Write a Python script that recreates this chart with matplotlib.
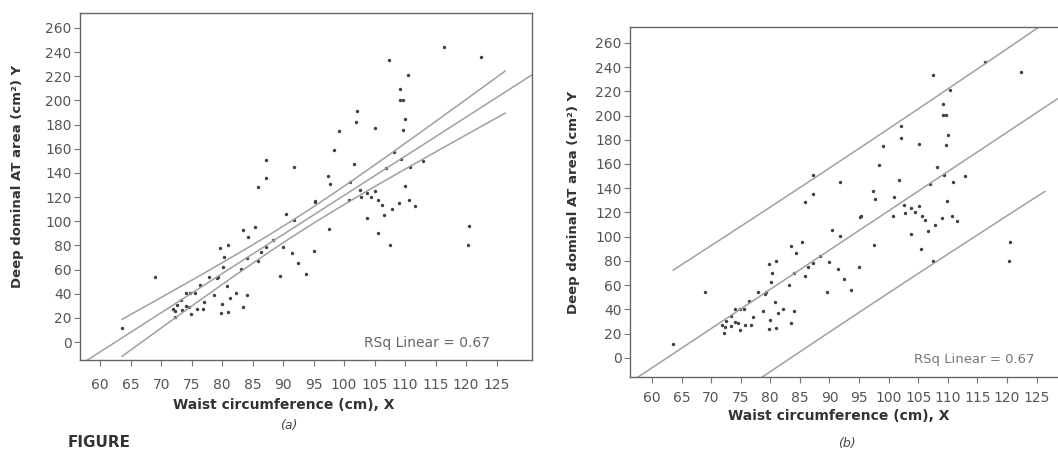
import numpy as np
import matplotlib.pyplot as plt

# waist circumference (cm) and deep abdominal AT area (cm^2)
waist = np.array([116.3, 122.4, 107.4, 110.4, 109.2, 109.1, 109.6, 102.1, 102.0, 105.1,
                  110.0, 99.1, 109.6, 98.4, 108.1, 87.2, 87.2, 85.8, 91.8, 97.3,
                  97.7, 101.7, 100.9, 106.9, 109.3, 110.8, 112.9, 109.9, 102.6, 103.8,
                  105.1, 102.8, 100.8, 104.4, 105.6, 106.2, 103.7, 106.6, 107.8, 109.0,
                  110.7, 111.6, 105.5, 107.5, 120.5, 120.3, 95.2, 95.3, 90.4, 91.8,
                  97.6, 95.0, 89.9, 91.4, 92.4, 89.5, 93.7, 88.4, 87.2, 86.3,
                  85.8, 85.4, 83.5, 84.3, 84.0, 80.9, 79.7, 80.3, 80.1, 83.1,
                  79.3, 79.1, 77.9, 69.0, 76.4, 80.8, 82.2, 84.0, 81.3, 78.7,
                  80.0, 79.8, 81.0, 83.5, 77.0, 75.6, 74.8, 74.0, 73.3, 72.6,
                  71.9, 72.3, 73.4, 74.5, 74.9, 75.8, 76.8, 74.1, 63.6, 72.2])
deep_at = np.array([244.5, 235.7, 233.4, 221.0, 209.2, 200.3, 200.3, 191.5, 181.8, 176.9,
                    184.3, 174.9, 175.5, 158.9, 157.6, 150.7, 135.5, 128.6, 145.1, 137.4,
                    130.8, 147.1, 132.7, 143.8, 151.2, 145.1, 149.8, 129.1, 125.8, 123.6,
                    125.3, 119.8, 117.5, 120.3, 117.5, 113.4, 102.4, 105.1, 109.8, 115.3,
                    117.5, 112.6, 90.0, 80.3, 96.0, 80.3, 116.2, 117.0, 105.7, 101.0,
                    93.5, 75.1, 78.9, 73.4, 65.1, 54.6, 56.3, 84.4, 78.4, 74.8,
                    67.3, 95.5, 92.7, 86.6, 69.8, 80.3, 77.5, 70.1, 62.4, 60.2,
                    54.1, 52.7, 54.1, 54.1, 47.2, 46.4, 40.3, 38.9, 36.7, 38.9,
                    31.5, 23.7, 25.1, 28.7, 33.4, 40.3, 40.8, 40.3, 34.8, 30.6,
                    27.0, 25.7, 26.5, 29.2, 23.2, 27.0, 27.0, 29.8, 11.3, 21.0])

x_ticks = np.arange(60, 126, 5)
y_ticks = np.arange(0, 261, 20)
rsq_text = "RSq Linear = 0.67"

# least squares fit and the two kinds of 95% bands
slope, intercept = np.polyfit(waist, deep_at, 1)
n = len(waist)
resid = deep_at - (intercept + slope * waist)
s = np.sqrt(np.sum(resid ** 2) / (n - 2))
sxx = np.sum((waist - waist.mean()) ** 2)
t = 1.98

xb = np.linspace(waist.min(), 126.4, 200)
yb = intercept + slope * xb
half_mean = t * s * np.sqrt(1 / n + (xb - waist.mean()) ** 2 / sxx)
half_pred = t * s * np.sqrt(1 + 1 / n + (xb - waist.mean()) ** 2 / sxx)

fig = plt.figure(figsize=(10.58, 4.53), dpi=100)
ax1 = fig.add_axes([80 / 1058, 1 - 360 / 453, 452 / 1058, 347 / 453])
ax2 = fig.add_axes([630 / 1058, 1 - 377 / 453, 428 / 1058, 350 / 453])

line_c = '#a0a0a0'
pt_c = '#404040'

def style(ax, xlim, ylim):
    ax.set_xlim(*xlim)
    ax.set_ylim(*ylim)
    ax.set_xticks(x_ticks)
    ax.set_yticks(y_ticks)
    ax.tick_params(length=4, width=0.8, color='#777', labelsize=10, labelcolor='#555')
    ax.tick_params(axis='y', pad=2)
    ax.tick_params(axis='x', pad=9)
    for sp in ax.spines.values():
        sp.set_color('#666')
        sp.set_linewidth(1.0)
    ax.set_xlabel("Waist circumference (cm), X", fontsize=10, fontweight='bold', color='#333')
    ax.set_ylabel("Deep dominal AT area (cm²) Y", fontsize=9.5, fontweight='bold', color='#333')

style(ax1, (56.7, 130.8), (-14.9, 272.4))
style(ax2, (56.3, 128.6), (-15.7, 273))
ax2.spines['right'].set_visible(False)
ax2.tick_params(axis='x', pad=6)

ax1.xaxis.set_label_coords(0.45, -0.11)
ax1.yaxis.set_label_coords(-0.124, 0.53)
ax2.xaxis.set_label_coords(0.488, -0.09)
ax2.yaxis.set_label_coords(-0.117, 0.5)

# (a) fitted line with confidence band for the mean
xf = np.array(ax1.get_xlim())
ax1.scatter(waist, deep_at, s=6, color=pt_c, linewidths=0)
ax1.plot(xf, intercept + slope * xf, color=line_c, lw=1.1)
ax1.plot(xb, yb + half_mean, color=line_c, lw=1.1)
ax1.plot(xb, yb - half_mean, color=line_c, lw=1.1)
ax1.text(0.907, 0.05, rsq_text, transform=ax1.transAxes, ha='right', va='center',
         fontsize=10, color='#666')

# (b) fitted line with prediction band
xf2 = np.array(ax2.get_xlim())
ax2.scatter(waist, deep_at, s=6, color=pt_c, linewidths=0)
ax2.plot(xf2, intercept + slope * xf2, color=line_c, lw=1.1)
ax2.plot(xb, yb + half_pred, color=line_c, lw=1.1)
ax2.plot(xb, yb - half_pred, color=line_c, lw=1.1)
ax2.text(0.946, 0.05, rsq_text, transform=ax2.transAxes, ha='right', va='center',
         fontsize=9.5, color='#777')

fig.text(289 / 1058, 1 - 425 / 453, "(a)", ha='center', va='center', fontsize=9,
         style='italic', color='#444')
fig.text(847 / 1058, 1 - 444 / 453, "(b)", ha='center', va='center', fontsize=9,
         style='italic', color='#444')
fig.text(68 / 1058, 0.006, "FIGURE", ha='left', va='bottom', fontsize=11,
         fontweight='bold', color='#333')

fig.savefig("out.png", dpi=100)
